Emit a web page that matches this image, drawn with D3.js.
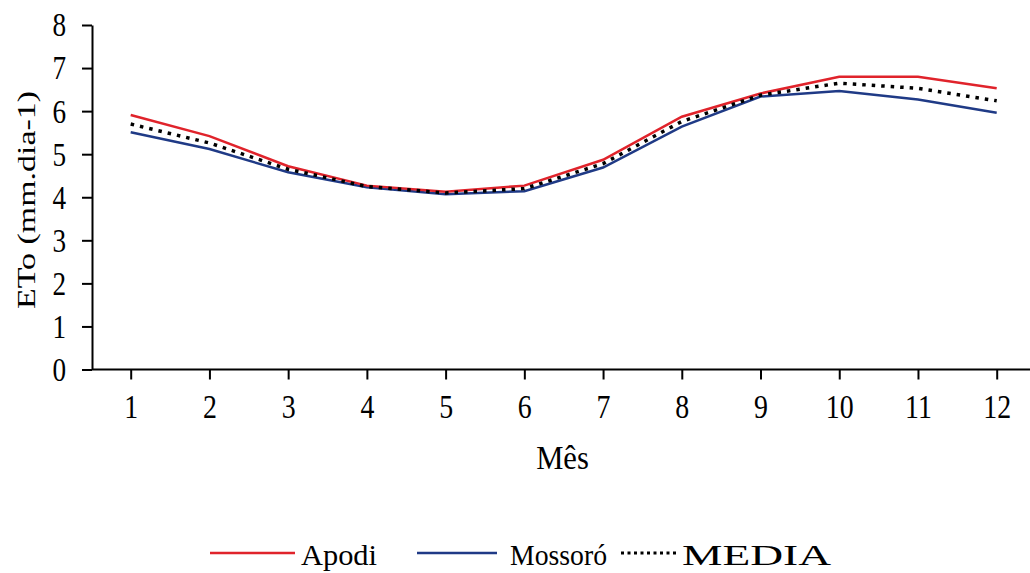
<!DOCTYPE html>
<html>
<meta charset="utf-8">
<script src="https://d3js.org/d3.v7.min.js"></script>
<style>
  body { margin: 0; background: #fff; }
  text { font-family: "Liberation Serif", "Times New Roman", serif; fill: #000; }
</style>
<body>
<div id="vis"></div>
<script>

  // data
  var months = [1, 2, 3, 4, 5, 6, 7, 8, 9, 10, 11, 12];
  var apodi   = [5.91, 5.42, 4.72, 4.27, 4.13, 4.27, 4.87, 5.87, 6.41, 6.80, 6.80, 6.53];
  var mossoro = [5.51, 5.12, 4.58, 4.23, 4.07, 4.14, 4.69, 5.64, 6.34, 6.47, 6.27, 5.96];
  var media   = [5.70, 5.26, 4.65, 4.25, 4.10, 4.20, 4.78, 5.76, 6.37, 6.65, 6.53, 6.24];
  var yTicks = [0, 1, 2, 3, 4, 5, 6, 7, 8];
  var seriesNames = ["Apodi", "Mossoró", "MEDIA"];

  var total_width = 1030,
      total_height = 573;

  var svg = d3.select("#vis")
    .append("svg")
      .attr("width", total_width)
      .attr("height", total_height);

  var x_scale = d3.scalePoint()
    .domain(months)
    .range([130.7, 996.7]);

  var y_scale = d3.scaleLinear()
    .domain([0, 8])
    .range([369.5, 25]);

  // Y axis
  var sy = 0.8;
  var yAxis = svg.append("g")
    .attr("transform", "translate(92,0)")
    .call(d3.axisLeft(y_scale).tickValues(yTicks).tickSize(10).tickSizeOuter(0));
  yAxis.select(".domain").attr("stroke", "#000").attr("stroke-width", 2);
  yAxis.selectAll(".tick line").attr("stroke", "#000").attr("stroke-width", 2);
  yAxis.selectAll(".tick text")
    .attr("font-family", null)
    .attr("font-size", 34)
    .attr("x", -26 / sy)
    .attr("dy", "0.32em")
    .attr("transform", "scale(" + sy + ",1)");

  // X axis
  var sx = 0.82;
  var xAxis = svg.append("g")
    .attr("transform", "translate(0,369.5)")
    .call(d3.axisBottom(x_scale).tickSize(10).tickSizeOuter(0));
  xAxis.select(".domain").attr("d", "M92,0H1030").attr("stroke", "#000").attr("stroke-width", 2);
  xAxis.selectAll(".tick line").attr("stroke", "#000").attr("stroke-width", 2);
  xAxis.selectAll(".tick text")
    .attr("font-family", null)
    .attr("font-size", 34)
    .attr("y", 49)
    .attr("dy", 0)
    .attr("transform", "scale(" + sx + ",1)");

  // axis titles
  svg.append("text")
    .attr("transform", "translate(562.5,469) scale(0.9,1)")
    .attr("text-anchor", "middle")
    .attr("font-size", 34)
    .text("Mês");

  svg.append("text")
    .attr("transform", "translate(35,200) rotate(-90)")
    .attr("text-anchor", "middle")
    .attr("font-size", 26)
    .attr("textLength", 218)
    .attr("lengthAdjust", "spacingAndGlyphs")
    .text("ETo (mm.dia-1)");

  // lines
  var line = d3.line()
    .x(function(d, i) { return x_scale(months[i]); })
    .y(function(d) { return y_scale(d); });

  svg.append("path")
    .datum(mossoro)
    .attr("d", line)
    .attr("fill", "none")
    .attr("stroke", "#1f3a86")
    .attr("stroke-width", 2.5);

  svg.append("path")
    .datum(apodi)
    .attr("d", line)
    .attr("fill", "none")
    .attr("stroke", "#e0232b")
    .attr("stroke-width", 2.5);

  svg.append("path")
    .datum(media)
    .attr("d", line)
    .attr("fill", "none")
    .attr("stroke", "#000")
    .attr("stroke-width", 3.5)
    .attr("stroke-dasharray", "3.5,6");

  // legend
  var legend = [
    {name: seriesNames[0], x1: 210, x2: 295, tx: 301, len: 76, color: "#e0232b", dash: null, w: 2.5},
    {name: seriesNames[1], x1: 417, x2: 497, tx: 510, len: 97, color: "#1f3a86", dash: null, w: 2.5},
    {name: seriesNames[2], x1: 621, x2: 676, tx: 682, len: 149, color: "#000", dash: "3,3.5", w: 3}
  ];
  var lg = svg.append("g");
  lg.selectAll("line")
    .data(legend)
    .join("line")
      .attr("x1", function(d) { return d.x1; })
      .attr("x2", function(d) { return d.x2; })
      .attr("y1", 553)
      .attr("y2", 553)
      .attr("stroke", function(d) { return d.color; })
      .attr("stroke-width", function(d) { return d.w; })
      .attr("stroke-dasharray", function(d) { return d.dash; });
  lg.selectAll("text")
    .data(legend)
    .join("text")
      .attr("x", function(d) { return d.tx; })
      .attr("y", 565)
      .attr("font-size", 30)
      .attr("textLength", function(d) { return d.len; })
      .attr("lengthAdjust", "spacingAndGlyphs")
      .text(function(d) { return d.name; });

</script>
</body>
</html>
